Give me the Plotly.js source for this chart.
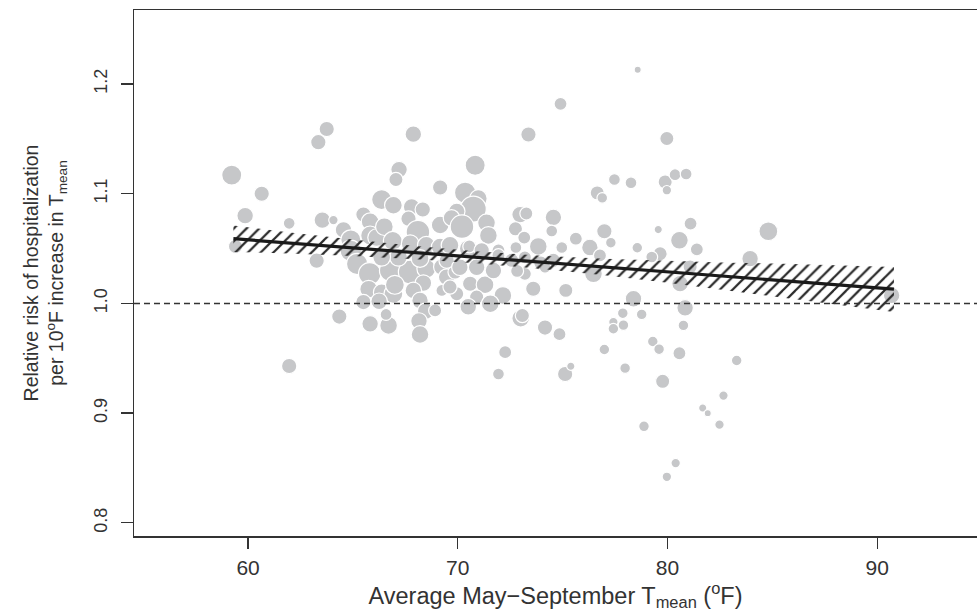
<!DOCTYPE html>
<html>
<head>
<meta charset="utf-8">
<script src="https://cdn.plot.ly/plotly-3.0.1.min.js"></script>
<style>html,body{margin:0;padding:0;background:#fff;}#chart{width:977px;height:615px;}</style>
</head>
<body>
<div id="chart"></div>
<script>
// Average May–September Tmean (°F) per site
const tempX = [
  59.22, 60.65, 59.86, 59.40, 61.96, 61.96, 63.75, 63.35, 63.54, 64.07,
  63.27, 64.35, 64.55, 64.90, 64.90, 65.20, 65.50, 65.82, 65.82, 66.13,
  66.37, 66.93, 66.50, 66.90, 67.20, 67.05, 67.80, 68.33, 67.65, 68.10,
  69.16, 69.16, 67.73, 68.50, 65.80, 66.80, 67.73, 68.50, 69.24, 68.36,
  69.47, 65.75, 66.37, 66.93, 67.00, 67.88, 68.20, 68.47, 68.92, 65.50,
  66.25, 65.82, 66.70, 66.58, 68.15, 68.20, 67.17, 66.37, 68.20,
  70.83, 67.88, 73.37, 74.90, 70.35, 70.98, 70.74, 69.95, 69.70, 70.20,
  71.37, 71.46, 72.97, 73.27, 72.75, 73.17, 74.56, 74.48, 75.63, 73.84,
  74.96, 72.77, 70.50, 70.55, 69.16, 69.63, 71.14, 71.94, 74.56, 73.20,
  72.57, 73.20, 69.87, 70.59, 71.30, 69.95, 70.90, 72.15, 71.55, 70.50,
  73.60, 75.15, 73.00, 73.08, 74.16, 74.85, 72.26, 71.94, 75.12, 75.39,
  73.96, 72.83, 74.16, 69.24, 71.94, 69.47, 70.10, 70.90, 71.70, 69.63,
  78.58, 79.97, 77.47, 78.26, 79.89, 79.97, 80.36, 80.89, 76.65, 76.89,
  76.99, 79.56, 81.10, 77.30, 76.30, 80.57, 78.56, 81.40, 79.65, 79.25,
  76.78, 83.94, 76.47, 80.60, 81.08, 78.38, 80.84, 77.87, 78.77, 77.42,
  77.90, 77.42, 80.76, 79.30, 79.60, 80.57, 76.99, 83.30, 77.98, 79.77,
  82.67, 81.68, 81.92, 82.48, 78.88, 80.39, 79.97, 84.81, 90.69
];
// Relative risk of hospitalization per 10°F increase
const rrY = [
  1.117, 1.100, 1.080, 1.052, 1.073, 0.943, 1.159, 1.147, 1.076, 1.076,
  1.039, 0.988, 1.067, 1.058, 1.048, 1.036, 1.081, 1.0745, 1.062, 1.060,
  1.0947, 1.0895, 1.070, 1.057, 1.122, 1.113, 1.088, 1.0856, 1.0773, 1.065,
  1.1057, 1.0715, 1.0545, 1.053, 1.027, 1.030, 1.0286, 1.0317, 1.0332, 1.0186,
  1.024, 1.013, 1.0103, 1.0088, 1.017, 1.0119, 1.0027, 0.993, 0.9936, 1.0012,
  1.002, 0.9814, 0.980, 0.990, 0.984, 0.9717, 1.042, 1.042, 1.041,
  1.126, 1.1543, 1.154, 1.182, 1.101, 1.0956, 1.086, 1.084, 1.078, 1.070,
  1.0735, 1.062, 1.081, 1.082, 1.068, 1.060, 1.0785, 1.066, 1.059, 1.052,
  1.051, 1.051, 1.050, 1.052, 1.0514, 1.053, 1.0484, 1.0484, 1.0393, 1.042,
  1.0393, 1.027, 1.0286, 1.018, 1.017, 1.0088, 1.0058, 1.0073, 0.9997, 0.997,
  1.0134, 1.0119, 0.9865, 0.989, 0.978, 0.972, 0.9556, 0.9357, 0.9357, 0.9428,
  1.0368, 1.0296, 1.033, 1.0119, 1.044, 1.039, 1.033, 1.033, 1.030, 1.015,
  1.213, 1.1504, 1.113, 1.110, 1.1108, 1.1032, 1.1174, 1.118, 1.1008, 1.0962,
  1.0658, 1.0673, 1.0728, 1.0554, 1.051, 1.0575, 1.0508, 1.0493, 1.0453, 1.0423,
  1.0438, 1.0408, 1.027, 1.018, 1.0332, 1.0043, 0.996, 0.9911, 0.990, 0.983,
  0.9802, 0.9769, 0.980, 0.9653, 0.9583, 0.9546, 0.958, 0.948, 0.941, 0.929,
  0.916, 0.9047, 0.900, 0.8895, 0.888, 0.8545, 0.842, 1.0658, 1.0073
];
// Relative weight of each site (circle diameter)
const weight = [
  17, 13, 14, 12, 10, 13, 13, 13, 14, 8,
  13, 13, 14, 17, 18, 18, 13, 15, 16, 15,
  17, 15, 15, 16, 14, 12, 14, 13, 13, 20,
  13, 15, 15, 15, 19, 19, 20, 16, 14, 14,
  14, 15, 14, 16, 16, 14, 14, 14, 11, 13,
  14, 14, 15, 10, 14, 15, 15, 15, 15,
  17, 14, 13, 11, 18, 15, 22, 14, 14, 20,
  15, 15, 14, 11, 12, 11, 14, 10, 11, 15,
  10, 10, 15, 11, 15, 15, 13, 11, 12, 11,
  12, 11, 12, 13, 15, 12, 12, 15, 15, 14,
  13, 12, 15, 12, 13, 11, 11, 10, 13, 7,
  12, 11, 10, 10, 11, 13, 14, 14, 14, 12,
  6, 12, 10, 10, 12, 8, 10, 10, 12, 9,
  13, 7, 11, 9, 14, 15, 9, 11, 12, 10,
  11, 14, 15, 14, 12, 14, 14, 9, 9, 8,
  9, 9, 9, 9, 9, 11, 9, 9, 9, 12,
  8, 7, 6, 8, 9, 8, 8, 16, 14
];
// Fitted regression line and its confidence band
const fitX = [59.3, 90.8];
const fitY = [1.059, 1.013];
const ciX = [59.3, 62, 65, 68, 71, 74, 77, 80, 83, 86, 88.5, 90.8];
const ciUpper = [1.071, 1.0646, 1.0582, 1.0523, 1.0474, 1.0435, 1.0407, 1.0388, 1.0372, 1.036, 1.0349, 1.0333];
const ciLower = [1.047, 1.0456, 1.0432, 1.0403, 1.0364, 1.0315, 1.0257, 1.0188, 1.0116, 1.004, 0.9979, 0.9922];
const refLine = 1.0;
const xTicks = [60, 70, 80, 90];
const yTicks = [0.8, 0.9, 1.0, 1.1, 1.2];

const bandX = ciX.concat(ciX.slice().reverse());
const bandY = ciUpper.concat(ciLower.slice().reverse());
const SIZE_SCALE = 1.18;

const FONT = 'Liberation Sans, Arial, Helvetica, sans-serif';
const INK = '#333333';

const traces = [
  {
    type: 'scatter', mode: 'markers', x: tempX, y: rrY,
    marker: { size: weight.map(w => w * SIZE_SCALE), color: '#c6c7c9', line: { color: '#ffffff', width: 1.2 }, opacity: 1 },
    hoverinfo: 'x+y', showlegend: false
  },
  {
    type: 'scatter', mode: 'lines', x: bandX, y: bandY, fill: 'toself',
    fillcolor: 'rgba(0,0,0,0)',
    fillpattern: { shape: '/', size: 9, solidity: 0.25, fgcolor: '#2a2a2a', bgcolor: 'rgba(0,0,0,0)' },
    line: { width: 0, color: 'rgba(0,0,0,0)' }, hoverinfo: 'skip', showlegend: false
  },
  {
    type: 'scatter', mode: 'lines', x: fitX, y: fitY,
    line: { color: '#1a1a1a', width: 3.2 }, hoverinfo: 'skip', showlegend: false
  }
];

const layout = {
  width: 977, height: 615,
  margin: { l: 134, r: 0, t: 10, b: 79 },
  paper_bgcolor: '#ffffff', plot_bgcolor: '#ffffff',
  font: { family: FONT, color: INK },
  showlegend: false,
  xaxis: {
    range: [54.56, 94.76], tickvals: xTicks, ticktext: xTicks.map(String),
    ticks: 'outside', ticklen: 11, tickwidth: 1.3, tickcolor: INK,
    showline: true, mirror: true, linecolor: INK, linewidth: 1.5,
    showgrid: false, zeroline: false,
    tickfont: { size: 21, family: FONT, color: INK },
    ticklabelstandoff: 1,
    title: { text: 'Average May\u2212September T<sub>mean</sub> (<sup>o</sup>F)', font: { size: 23.5, family: FONT, color: INK }, standoff: 0 }
  },
  yaxis: {
    range: [0.788, 1.2675], tickvals: yTicks, ticktext: yTicks.map(v => v.toFixed(1)),
    ticks: 'outside', ticklen: 12, tickwidth: 1.3, tickcolor: INK,
    showline: true, mirror: false, linecolor: INK, linewidth: 1.5,
    showgrid: false, zeroline: false, tickangle: -90,
    tickfont: { size: 18, family: FONT, color: INK },
    ticklabelstandoff: 6,
    title: { text: 'Relative risk of hospitalization<br>per 10<sup>o</sup>F increase in T<sub>mean</sub>', font: { size: 19.5, family: FONT, color: INK }, standoff: 22 }
  },
  shapes: [
    { type: 'line', xref: 'paper', x0: 0, x1: 1, yref: 'y', y0: refLine, y1: refLine,
      line: { color: INK, width: 1.4, dash: '6px,4px' }, layer: 'above' }
  ]
};

Plotly.newPlot('chart', traces, layout, { staticPlot: true, displayModeBar: false });
</script>
</body>
</html>
